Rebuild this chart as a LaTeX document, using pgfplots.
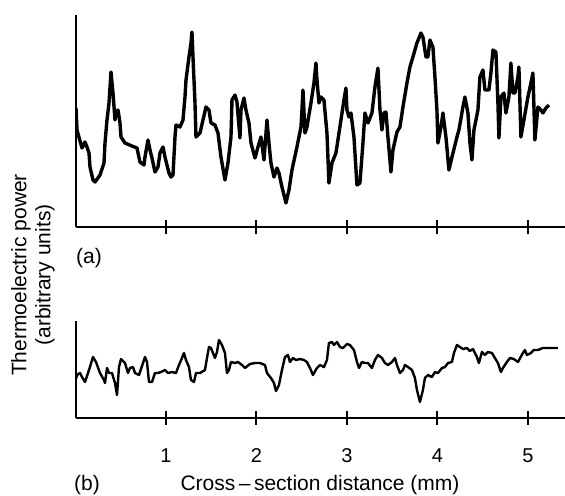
\documentclass[border=0pt]{standalone}
\usepackage{pgfplots}
\pgfplotsset{compat=1.18}
\usepackage{pgfplotstable}
\usepackage{fontspec}
\setmainfont{Liberation Sans}

% traces: x position and height, in picture pixels
\pgfplotstableread{
px py
76 108
77 130
82 148
85 142
87 147
89 153
90 167
93 180
95 182
100 175
104 163
105 143
107 120
109 103
111 72
113 93
115 120
116 113
118 110
120 123
121 137
125 143
132 146
137 148
140 162
144 165
145 157
148 140
150 150
152 158
155 172
158 167
160 153
163 147
165 157
169 173
171 177
173 175
175 137
176 125
180 127
183 120
185 97
186 80
189 57
191 43
192 32
193 57
195 103
196 137
200 133
203 120
206 107
209 110
211 123
215 125
218 133
221 157
225 180
228 163
231 137
232 100
235 95
237 102
240 138
241 110
244 98
246 110
249 123
251 143
255 158
258 147
261 137
264 160
267 120
269 143
271 163
274 177
277 168
279 173
282 187
286 203
289 190
292 170
297 147
301 127
302 110
303 90
305 133
307 127
311 103
314 83
316 63
317 80
319 103
321 97
324 100
327 133
329 183
332 163
336 153
341 120
344 100
346 88
347 110
349 117
351 113
354 137
357 185
360 183
363 143
365 113
368 123
372 113
375 87
378 68
380 110
382 130
384 113
386 112
388 137
391 172
393 150
397 132
400 127
403 107
407 83
410 67
413 57
417 43
421 33
423 37
426 57
428 57
430 40
433 47
435 77
437 110
438 143
441 127
443 113
446 137
449 170
453 153
457 137
459 130
463 107
465 97
468 113
470 143
472 160
474 130
478 110
480 77
483 70
485 90
489 90
491 73
493 50
496 52
498 103
499 138
501 97
504 93
506 113
509 97
511 63
513 93
515 93
518 77
519 67
521 137
524 120
528 97
531 83
533 73
535 140
538 107
541 110
543 113
546 108
549 105
}\toptrace

\pgfplotstableread{
px py
75 383
77 375
80 373
82 377
85 382
89 370
93 357
96 362
100 373
104 380
105 383
107 368
109 373
112 373
115 383
117 395
119 367
121 359
125 363
128 373
130 368
133 367
135 373
139 375
143 363
145 357
147 362
149 382
152 382
155 373
158 373
161 372
165 370
168 373
172 372
176 373
179 365
182 358
184 353
186 360
189 367
191 380
194 382
196 373
200 373
205 370
207 358
209 347
211 348
213 353
215 358
217 352
219 340
222 345
225 353
227 373
229 370
231 362
235 363
238 362
242 365
245 368
250 364
255 363
260 363
265 365
267 373
271 378
274 383
276 391
279 385
282 370
285 357
288 355
290 362
293 358
296 360
300 359
304 360
307 362
310 368
313 375
317 368
320 365
324 367
327 360
329 343
332 342
334 345
337 342
340 347
343 348
347 344
350 345
354 350
357 362
359 368
362 362
365 363
368 363
372 368
375 360
378 355
382 358
385 363
388 365
392 362
395 358
397 365
400 373
403 370
405 365
408 367
412 370
415 378
417 390
420 402
423 390
425 378
428 375
432 377
435 372
438 373
442 368
445 367
448 363
452 362
454 353
457 345
460 347
463 349
467 348
470 351
473 349
477 357
479 363
482 352
485 355
488 352
492 353
495 358
498 363
501 372
503 368
507 362
510 358
514 359
518 362
523 353
525 350
527 355
531 353
534 350
538 350
543 348
550 348
558 348
}\bottomtrace

\begin{document}
\fontsize{10.5}{12}\selectfont
\begin{tikzpicture}
\pgfplotsset{
  panel/.style={
    scale only axis,
    width=244.75pt,
    xmin=0, xmax=5.41,
    ymin=0,
    axis x line=bottom,
    axis y line=left,
    axis line style={-, line width=1pt},
    ytick=\empty,
    xtick={1,2,3,4,5},
    tick align=center,
    major tick length=7pt,
    tick style={line width=1pt, black},
    /pgf/number format/assume math mode=true,
    ticklabel style={font=\fontsize{10}{12}\selectfont},
  },
}
% (b)
\begin{axis}[panel, name=bot, at={(0,0)}, anchor=south west,
  height=48.5pt, ymax=97,
  xticklabel style={yshift=-8pt}]
\addplot[black, line width=1.2pt, line join=round]
  table[x expr=(\thisrowno{0}-75.5)/90.5, y expr=418-\thisrowno{1}] {\bottomtrace};
\end{axis}
% (a)
\begin{axis}[panel, name=top, at={(0,95.5pt)}, anchor=south west,
  height=106pt, ymax=212, xticklabels={}]
\addplot[black, line width=1.7pt, line join=round]
  table[x expr=(\thisrowno{0}-75.5)/90.5, y expr=227-\thisrowno{1}] {\toptrace};
\end{axis}
\node[rotate=90, align=center] at (-21.25pt,71.5pt)
  {Thermoelectric power\\(arbitrary units)};
\node at (6.75pt,80pt) {(a)};
\node at (5.75pt,-33.5pt) {(b)};
\node at (122.25pt,-33.5pt) {Cross\,--\,section distance (mm)};
\pgfresetboundingbox
\path (-37.75pt,-38.5pt) rectangle (244.75pt,209pt);
\end{tikzpicture}
\end{document}
